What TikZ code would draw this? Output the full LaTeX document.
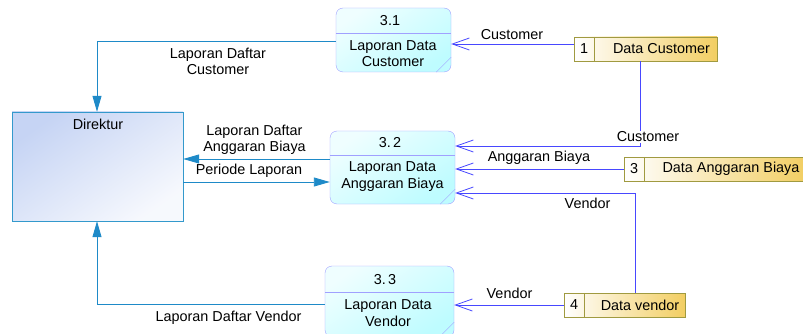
\documentclass[tikz,border=0pt]{standalone}
\usepackage{fontspec}
\setmainfont{Liberation Sans}
\usetikzlibrary{arrows.meta,positioning}

\definecolor{flowcyan}{HTML}{1E8AC8}
\definecolor{flowblue}{HTML}{4848FF}
\definecolor{procline}{HTML}{A0A0FF}
\definecolor{procfill}{HTML}{BEFCFF}
\definecolor{storeline}{HTML}{A09A40}
\definecolor{storegold}{HTML}{F2CE62}
\definecolor{entline}{HTML}{3399CC}
\definecolor{entfill}{HTML}{C6D4F4}

\tikzset{
	every node/.style={font=\fontsize{14.4}{16.4}\selectfont, inner sep=1pt},
	proc/.style={draw=procline, rounded corners=7pt, top color=procfill!25!white, bottom color=procfill, shading angle=35},
	datastore/.style={draw=storeline, left color=white, right color=storegold, minimum height=24},
	entity/.style={draw=entline, top color=entfill, bottom color=white!85!entfill, shading angle=35},
	report/.style={draw=flowcyan, line width=0.9pt, -{Triangle[length=16pt,width=9pt]}},
	fetch/.style={draw=flowblue, line width=0.8pt, -{Straight Barb[length=17pt,width=12pt]}},
}

\begin{document}
\begin{tikzpicture}[x=1pt, y=-1pt]
		\useasboundingbox (0,0) rectangle (803,334);
		
		% terminator
		\node[entity, minimum width=171, minimum height=109] (dir) at (97.5,166.5) {};
		\node (dirl) at (98,124) {Direktur};
		
		% processes
		\node[proc, minimum width=115, minimum height=64] (p31) at (393.5,40) {};
		\node[proc, minimum width=125, minimum height=73] (p32) at (392.5,167.5) {};
		\node[proc, minimum width=129, minimum height=71] (p33) at (389.5,301.5) {};
		\draw[procline] (p31.west |- 0,33) -- (p31.east |- 0,33);
		\draw[procline] (p32.west |- 0,155) -- (p32.east |- 0,155);
		\draw[procline] (p33.west |- 0,292) -- (p33.east |- 0,292);
		\foreach \p in {p31,p32,p33}
			\draw[procline] ([yshift=15pt]\p.south east) -- ([xshift=-15pt]\p.south east);
		\node (n31) at (390,21) {3.1};
		\node[align=center] (t31) at (393,53.5) {Laporan Data\\Customer};
		\node (n32) at (390,143) {3.\,2};
		\node[align=center] (t32) at (392.5,176.5) {Laporan Data\\Anggaran Biaya};
		\node (n33) at (385,280) {3.\,3};
		\node[align=center] (t33) at (388,313) {Laporan Data\\Vendor};
		
		% data stores
		\node[datastore, minimum width=143] (sc) at (645.5,49) {};
		\node[datastore, minimum width=182] (sa) at (715,169) {};
		\node[datastore, minimum width=121] (sv) at (624.5,305) {};
		\draw[storeline] (594,0 |- sc.north) -- (594,0 |- sc.south);
		\draw[storeline] (644,0 |- sa.north) -- (644,0 |- sa.south);
		\draw[storeline] (584,0 |- sv.north) -- (584,0 |- sv.south);
		\node (sc1) at (584,49) {1};
		\node (scl) at (661.5,49) {Data Customer};
		\node (sa1) at (634,169) {3};
		\node (sal) at (731,169) {Data Anggaran Biaya};
		\node (sv1) at (574,305) {4};
		\node (svl) at (640,305) {Data vendor};
		
		% reports to Direktur
		\coordinate (k1) at (97,41);
		\coordinate (k2) at (97,304);
		\draw[report] (p31.west |- k1) -- (k1) -- (dir.north -| k1);
		\draw[report] (p32.west |- 0,159) -- (dir.east |- 0,159);
		\draw[report] (dir.east |- 0,182) -- (p32.west |- 0,182);
		\draw[report] (p33.west |- k2) -- (k2) -- (dir.south -| k2);
		\node[align=center] (f1) at (218,61.5) {Laporan Daftar\\Customer};
		\node[align=center] (f2) at (254.5,139.5) {Laporan Daftar\\Anggaran Biaya};
		\node (f3) at (249,171) {Periode Laporan};
		\node (f4) at (228.5,318) {Laporan Daftar Vendor};
		
		% reads from data stores
		\coordinate (c1) at (640,146);
		\coordinate (c2) at (635,193);
		\draw[fetch] (sc.west |- 0,44) -- (p31.east |- 0,44);
		\draw[fetch] (sc.south -| c1) -- (c1) -- (p32.east |- c1);
		\draw[fetch] (sa.west) -- (p32.east |- sa.west);
		\draw[fetch] (sv.north -| c2) -- (c2) -- (p32.east |- c2);
		\draw[fetch] (sv.west) -- (p33.east |- sv.west);
		\node (g1) at (512,35) {Customer};
		\node[fill=white] (g2) at (648,137) {Customer};
		\node (g3) at (539,158) {Anggaran Biaya};
		\node (g4) at (587.5,203) {Vendor};
		\node (g5) at (509.5,293) {Vendor};
		
	\end{tikzpicture}
\end{document}
